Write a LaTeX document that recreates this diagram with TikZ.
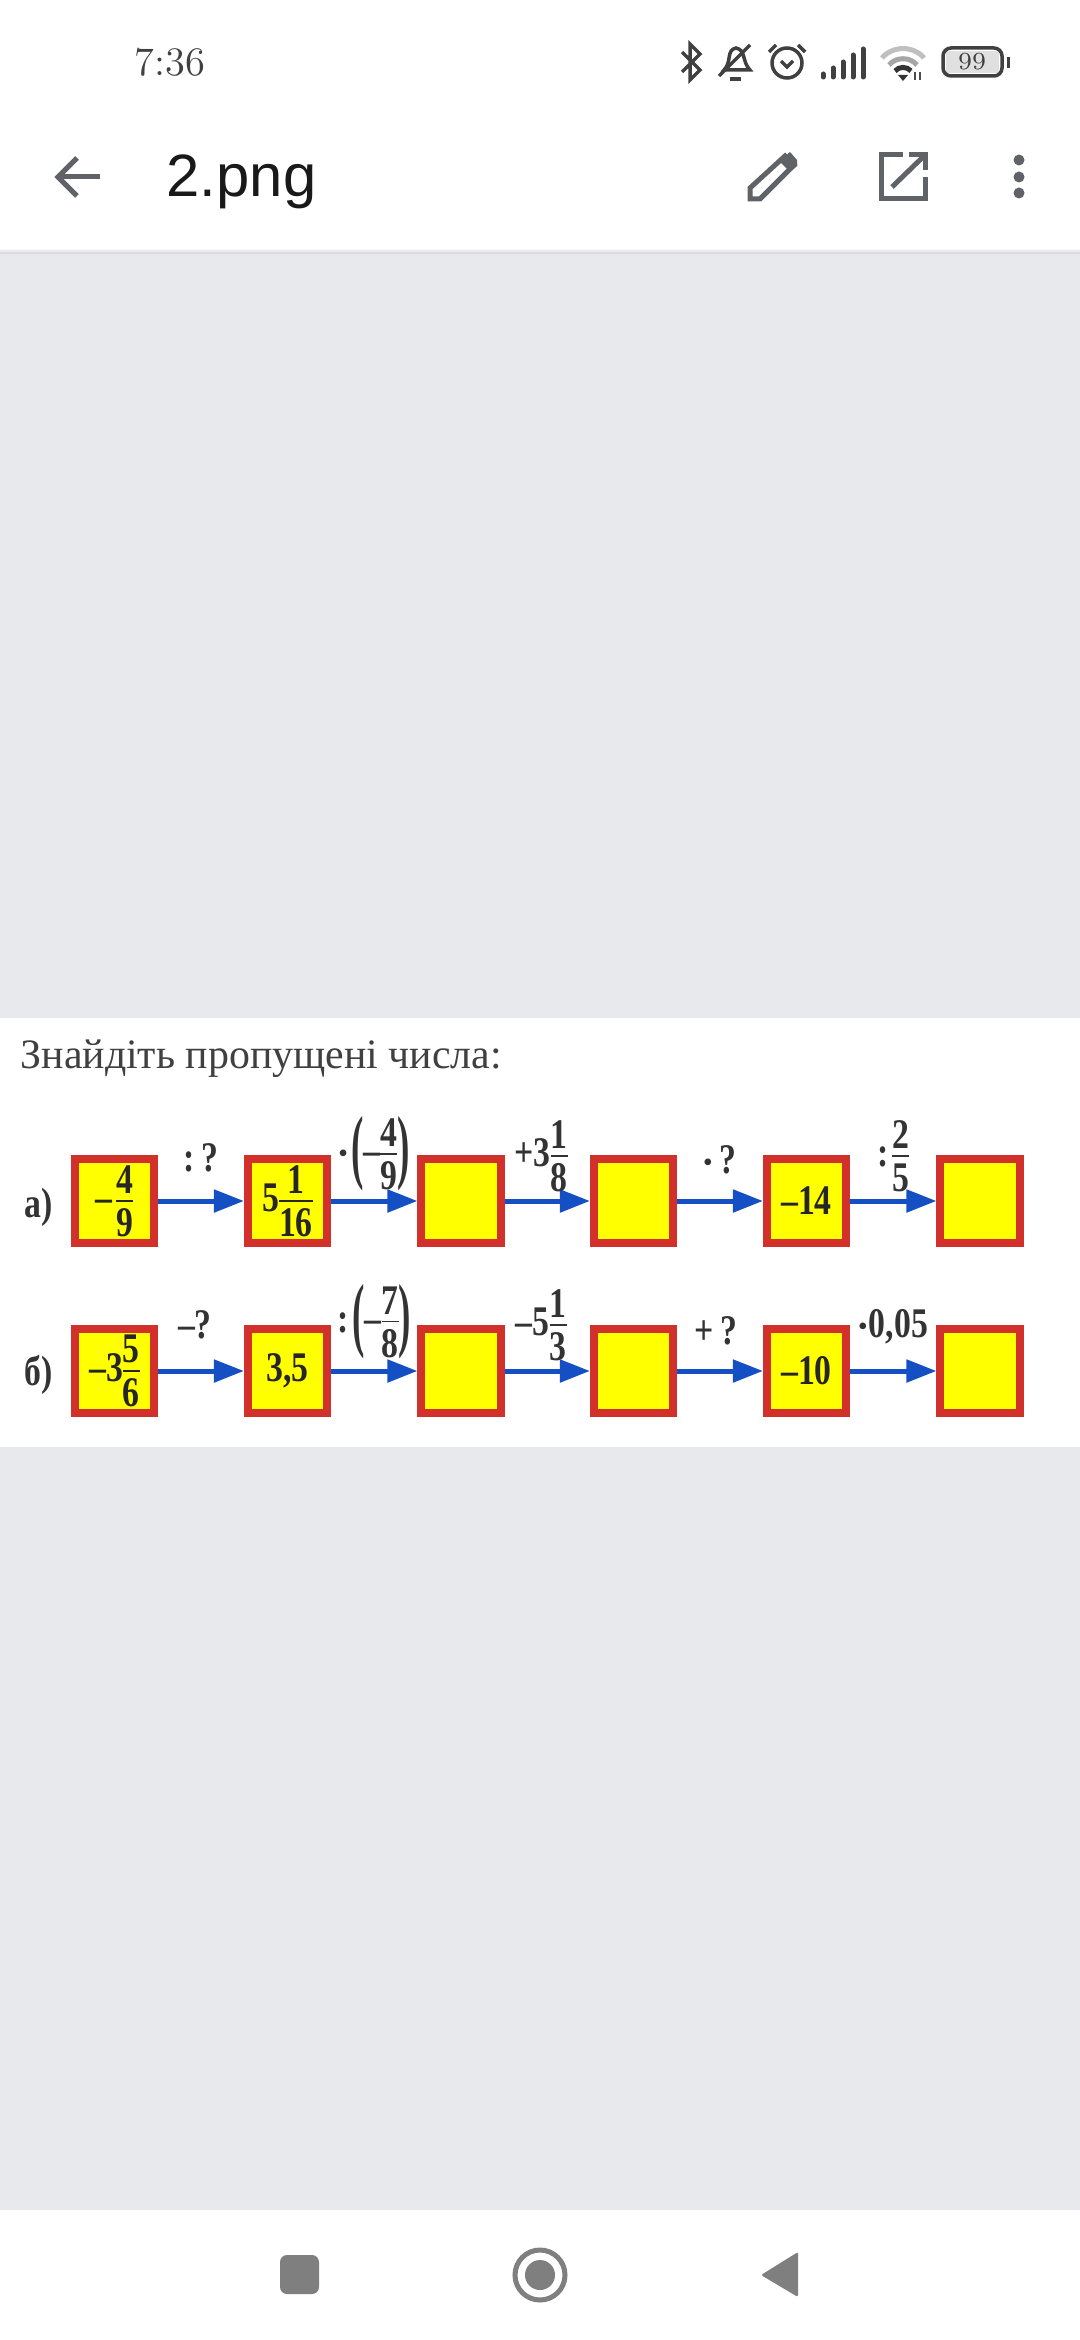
\documentclass[tikz,border=0pt]{standalone}
\usepackage{fontspec}
\usepackage{graphicx}
\usetikzlibrary{arrows.meta}
\newfontfamily\bookfont[FakeStretch=0.8]{Liberation Serif}
\newfontfamily\titlefont{Liberation Serif}
\newfontfamily\appfont{Liberation Sans}
\newcommand{\numfont}{\bookfont\bfseries\fontsize{12}{14}\selectfont}
\newcommand{\numtxt}[1]{\hbox{\numfont #1}}
\newcommand{\numfrac}[2]{\ensuremath{\vcenter{\offinterlineskip\halign{\hfil##\hfil\cr\numtxt{#1}\cr\noalign{\vskip1.9pt\hrule height 0.5pt\vskip1.9pt}\numtxt{#2}\cr}}}}
\newcommand{\opdot}{\raisebox{1pt}{\fontsize{7}{8}\selectfont\titlefont•}}
\newcommand{\lparen}{\ensuremath{\vcenter{\hbox{\scalebox{1.1}[1.95]{\numfont(}}}}}
\newcommand{\rparen}{\ensuremath{\vcenter{\hbox{\scalebox{1.1}[1.95]{\numfont)}}}}}
\definecolor{chromegray}{HTML}{E8E9ED}
\definecolor{icongray}{HTML}{5F6368}
\definecolor{navgray}{HTML}{7F7F7F}
\definecolor{boxred}{HTML}{D2302A}
\definecolor{boxyellow}{HTML}{FFFF00}
\definecolor{flowblue}{HTML}{1450C4}
\tikzset{
	numbox/.style={draw=boxred, fill=boxyellow, line width=0.08cm, minimum width=0.79cm, minimum height=0.84cm, inner sep=0pt, font=\numfont, text=black!85},
	flowarrow/.style={draw=flowblue, line width=0.05cm, -{Triangle[length=0.3cm,width=0.22cm]}},
	oplabel/.style={inner sep=0pt, font=\numfont, text=black!80},
	rowlabel/.style={inner sep=0pt, font=\numfont, text=black!80},
	icon/.style={draw=icongray, line width=0.05cm, fill=none},
	staticon/.style={draw=black!75, line width=0.035cm, fill=none}
}
\begin{document}
\begin{tikzpicture}[x=0.01cm, y=-0.01cm]
	\useasboundingbox (0,0) rectangle (1080,2340);
	\fill[white] (0,0) rectangle (1080,2340);
	\fill[chromegray] (0,254) rectangle (1080,2210);
	\shade[top color=white, bottom color=black!18] (0,248) rectangle (1080,254);
	\fill[white] (0,1018) rectangle (1080,1447);

	\node[inner sep=0pt, text=black!75, font=\fontsize{11.5}{13}\selectfont] (clock) at (170,62) {7:36};
	\node[inner sep=0pt, anchor=base west, text=black!90, font=\appfont\fontsize{17}{19}\selectfont] (filename) at (166,197) {2.png};

	\draw[staticon] (682,52) -- (700,70) -- (690,80) -- (690,44) -- (700,54) -- (682,72);
	\draw[staticon] (724,70) .. controls (732,62) and (726,50) .. (736,48) .. controls (746,50) and (742,62) .. (750,70) -- cycle;
	\draw[staticon] (719,76) -- (750,45);
	\draw[staticon] (730,79) -- (741,79);
	\draw[staticon] (787,63) circle[radius=15];
	\draw[staticon] (781,61) -- (787,67) -- (793,61);
	\draw[staticon] (769,52) -- (776,45);
	\draw[staticon] (805,52) -- (798,45);
	\draw[black!75, line width=0.05cm, line cap=round] (823,77) -- (823,74) (833,77) -- (833,68) (843,77) -- (843,62) (853,77) -- (853,55) (863,77) -- (863,49);
	\draw[black!25, line width=0.05cm] (882,58) to[bend left=50] (924,58);
	\draw[black!35, line width=0.05cm] (889,65) to[bend left=50] (917,65);
	\draw[black!80, line width=0.05cm] (895,71) to[bend left=50] (911,71);
	\fill[black!80] (898,75) -- (908,75) -- (903,81) -- cycle;
	\draw[black!70, line width=0.02cm] (915,72) -- (915,80) (920,72) -- (920,80);
	\fill[black!12] (946,51) rectangle (999,73);
	\draw[staticon, rounded corners=0.08cm] (943,48) rectangle (1002,76);
	\draw[black!75, line width=0.03cm] (1008,57) -- (1008,68);
	\node[inner sep=0pt, text=black!75, font=\fontsize{7}{8}\selectfont] (battery) at (972,62) {99};

	\draw[icon] (100,177) -- (58,177);
	\draw[icon] (77,158) -- (58,177) -- (77,196);
	\draw[icon] (750,199) -- (750,188) -- (785,156) -- (794,165) -- (760,199) -- cycle;
	\fill[icongray] (779,161) -- (790,152) -- (797,160) -- (797,166) -- (790,172) -- cycle;
	\draw[icon] (903,155) -- (881,155) -- (881,199) -- (925,199) -- (925,177);
	\draw[icon] (892,187) -- (925,155);
	\draw[icon] (909,155) -- (925,155) -- (925,170);
	\fill[icongray] (1019,160) circle[radius=5.5];
	\fill[icongray] (1019,177) circle[radius=5.5];
	\fill[icongray] (1019,193) circle[radius=5.5];

	\fill[navgray, rounded corners=0.07cm] (280,2255) rectangle (319,2294);
	\draw[navgray, line width=0.05cm] (540,2275) circle[radius=25];
	\fill[navgray] (540,2275) circle[radius=15];
	\fill[navgray, rounded corners=0.02cm] (761,2275) -- (798,2252) -- (798,2297) -- cycle;

	\node[inner sep=0pt, anchor=base west, text=black!75, font=\titlefont\fontsize{11.9}{14}\selectfont] (title) at (20,1068) {Знайдіть пропущені числа:};

	\node[rowlabel] (rowa) at (39,1207) {а)};
	\node[numbox] (a1) at (114.5,1201) {\numtxt{–}\kern1pt\numfrac{4}{9}};
	\node[numbox] (a2) at (287.5,1201) {\numtxt{5}\numfrac{1}{16}};
	\node[numbox] (a3) at (461,1201) {};
	\node[numbox] (a4) at (633.5,1201) {};
	\node[numbox] (a5) at (806.5,1201) {–14};
	\node[numbox] (a6) at (980,1201) {};

	\draw[flowarrow] (a1) -- (a2) node[midway, yshift=0.43cm, oplabel] (opa1) {:\,?};
	\draw[flowarrow] (a2) -- (a3) node[midway, yshift=0.47cm, oplabel] (opa2) {\opdot\kern1pt\lparen\numtxt{–}\numfrac{4}{9}\rparen};
	\draw[flowarrow] (a3) -- (a4) node[midway, xshift=-0.06cm, yshift=0.45cm, oplabel] (opa3) {\numtxt{+3}\numfrac{1}{8}};
	\draw[flowarrow] (a4) -- (a5) node[midway, yshift=0.41cm, oplabel] (opa4) {\opdot\,?};
	\draw[flowarrow] (a5) -- (a6) node[midway, yshift=0.45cm, oplabel] (opa5) {\numtxt{:}\kern1pt\numfrac{2}{5}};

	\node[rowlabel] (rowb) at (39,1375) {б)};
	\node[numbox] (b1) at (114.5,1371) {\numtxt{–3}\numfrac{5}{6}};
	\node[numbox] (b2) at (287.5,1371) {3,5};
	\node[numbox] (b3) at (461,1371) {};
	\node[numbox] (b4) at (633.5,1371) {};
	\node[numbox] (b5) at (806.5,1371) {–10};
	\node[numbox] (b6) at (980,1371) {};

	\draw[flowarrow] (b1) -- (b2) node[midway, xshift=-0.06cm, yshift=0.46cm, oplabel] (opb1) {–?};
	\draw[flowarrow] (b2) -- (b3) node[midway, yshift=0.49cm, oplabel] (opb2) {\numtxt{:}\kern1pt\lparen\numtxt{–}\numfrac{7}{8}\rparen};
	\draw[flowarrow] (b3) -- (b4) node[midway, xshift=-0.06cm, yshift=0.46cm, oplabel] (opb3) {\numtxt{–5}\numfrac{1}{3}};
	\draw[flowarrow] (b4) -- (b5) node[midway, xshift=-0.04cm, yshift=0.4cm, oplabel] (opb4) {+\,?};
	\draw[flowarrow] (b5) -- (b6) node[midway, yshift=0.44cm, oplabel] (opb5) {\opdot\kern0.5pt 0,05};
\end{tikzpicture}
\end{document}
